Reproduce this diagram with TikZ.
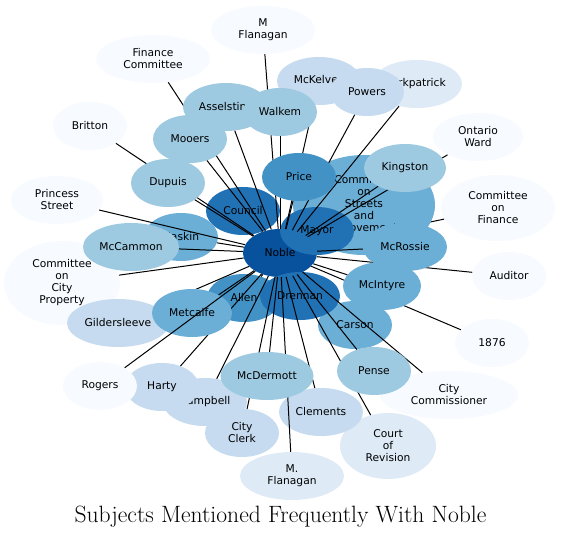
\documentclass[tikz,border=0pt]{standalone}
\usepackage{fontspec}
\usetikzlibrary{shapes.geometric}
\newfontfamily\labelfont{DejaVu Sans}
\definecolor{bA}{HTML}{F7FBFF}
\definecolor{bB}{HTML}{DEEBF7}
\definecolor{bC}{HTML}{C6DBEF}
\definecolor{bD}{HTML}{9ECAE1}
\definecolor{bE}{HTML}{6BAED6}
\definecolor{bF}{HTML}{4292C6}
\definecolor{bG}{HTML}{2171B5}
\definecolor{bH}{HTML}{08519C}
\tikzset{
  nd/.style={ellipse, inner sep=0pt, draw=none, align=center, text=black,
    font=\labelfont\fontsize{10.7}{12}\selectfont,
    minimum width=74pt, minimum height=48pt},
  ew/.style={minimum width=#1pt},
  eh/.style={minimum height=#1pt},
  lk/.style={draw=black, line width=1pt},
  ttl/.style={font=\fontsize{23.6}{26}\selectfont, anchor=base, inner sep=0pt}
}
\begin{document}
\begin{tikzpicture}[x=1pt,y=-1pt]
\useasboundingbox[fill=white] (0,0) rectangle (562,537);
\coordinate (pNoble) at (280,253);
\node[nd, fill=bG] (Council) at (243,211) {Council};
\draw[lk] (Council) -- (pNoble);
\node[nd, fill=bH] (Noble) at (pNoble) {Noble};
\node[nd, fill=bA, ew=114, eh=66] (CoF) at (498,208) {Committee\\on\\Finance};
\draw[lk] (Noble) -- (CoF);
\node[nd, fill=bE, ew=142, eh=100] (CoS) at (364,205) {Committee\\on\\Streets\\and\\Improvements};
\draw[lk] (Noble) -- (CoS);
\coordinate (pMayor) at (317,231);
\draw[lk] (Noble) -- (pMayor);
\node[nd, fill=bG] (Mayor) at (pMayor) {Mayor};
\node[nd, fill=bA, ew=90] (Ontario) at (478,137) {Ontario\\Ward};
\draw[lk] (Noble) -- (Ontario);
\node[nd, fill=bD, ew=82] (Kingston) at (405,168) {Kingston};
\draw[lk] (Noble) -- (Kingston);
\node[nd, fill=bA] (Auditor) at (509,276) {Auditor};
\draw[lk] (Noble) -- (Auditor);
\node[nd, fill=bE, ew=84] (McRossie) at (405,247) {McRossie};
\draw[lk] (Noble) -- (McRossie);
\node[nd, fill=bA] (n1876) at (492,343) {1876};
\draw[lk] (Noble) -- (n1876);
\node[nd, fill=bE] (Carson) at (355,325) {Carson};
\draw[lk] (Noble) -- (Carson);
\node[nd, fill=bE, ew=78] (McIntyre) at (382,286) {McIntyre};
\draw[lk] (Noble) -- (McIntyre);
\node[nd, fill=bF] (Allen) at (244,298) {Allen};
\draw[lk] (Noble) -- (Allen);
\coordinate (pDrennan) at (300,296);
\draw[lk] (Noble) -- (pDrennan);
\node[nd, fill=bG, ew=80] (Drennan) at (pDrennan) {Drennan};
\node[nd, fill=bA, ew=138] (CityComm) at (449,395) {City\\Commissioner};
\draw[lk] (Noble) -- (CityComm);
\node[nd, fill=bB, ew=96, eh=66] (CoR) at (388,446) {Court\\of\\Revision};
\draw[lk] (Noble) -- (CoR);
\node[nd, fill=bD] (Pense) at (374,371) {Pense};
\draw[lk] (Noble) -- (Pense);
\node[nd, fill=bC, ew=84] (Clements) at (321,412) {Clements};
\draw[lk] (Noble) -- (Clements);
\node[nd, fill=bB, ew=104] (MFlanB) at (292,476) {M.\\Flanagan};
\draw[lk] (Noble) -- (MFlanB);
\node[nd, fill=bC, ew=84] (Campbell) at (205,402) {Campbell};
\draw[lk] (Noble) -- (Campbell);
\node[nd, fill=bC] (CityClerk) at (242,433) {City\\Clerk};
\draw[lk] (Noble) -- (CityClerk);
\node[nd, fill=bD, ew=93] (McDermott) at (267,376) {McDermott};
\draw[lk] (Noble) -- (McDermott);
\node[nd, fill=bC] (Harty) at (162,387) {Harty};
\draw[lk] (Noble) -- (Harty);
\node[nd, fill=bA, ew=116, eh=84] (CoCP) at (62,283) {Committee\\on\\City\\Property};
\draw[lk] (Noble) -- (CoCP);
\node[nd, fill=bC, ew=102] (Gilder) at (118,323) {Gildersleeve};
\draw[lk] (Noble) -- (Gilder);
\node[nd, fill=bE, ew=80] (Metcalfe) at (192,313) {Metcalfe};
\draw[lk] (Noble) -- (Metcalfe);
\node[nd, fill=bA] (Rogers) at (100,386) {Rogers};
\draw[lk] (Noble) -- (Rogers);
\node[nd, fill=bE] (Haskin) at (181,237) {Haskin};
\draw[lk] (Noble) -- (Haskin);
\node[nd, fill=bD, ew=96] (McCammon) at (131,247) {McCammon};
\draw[lk] (Noble) -- (McCammon);
\node[nd, fill=bA, ew=92] (Princess) at (57,200) {Princess\\Street};
\draw[lk] (Noble) -- (Princess);
\node[nd, fill=bA] (Britton) at (90,126) {Britton};
\draw[lk] (Noble) -- (Britton);
\node[nd, fill=bA, ew=114] (FinCom) at (153,59) {Finance\\Committee};
\draw[lk] (Noble) -- (FinCom);
\node[nd, fill=bD, ew=86] (Asselstine) at (226,107) {Asselstine};
\draw[lk] (Noble) -- (Asselstine);
\node[nd, fill=bD] (Mooers) at (190,139) {Mooers};
\draw[lk] (Noble) -- (Mooers);
\node[nd, fill=bD] (Dupuis) at (168,183) {Dupuis};
\draw[lk] (Noble) -- (Dupuis);
\node[nd, fill=bA, ew=104] (MFlanA) at (263,30) {M\\Flanagan};
\draw[lk] (Noble) -- (MFlanA);
\node[nd, fill=bC, ew=84] (McKelvey) at (319,81) {McKelvey};
\draw[lk] (Noble) -- (McKelvey);
\node[nd, fill=bD] (Walkem) at (280,112) {Walkem};
\draw[lk] (Noble) -- (Walkem);
\node[nd, fill=bB, ew=90] (Kirk) at (417,84) {Kirkpatrick};
\draw[lk] (Noble) -- (Kirk);
\node[nd, fill=bC] (Powers) at (367,92) {Powers};
\draw[lk] (Noble) -- (Powers);
\node[nd, fill=bF] (Price) at (299,177) {Price};
\draw[lk] (Noble) -- (Price);
\node[ttl] (title) at (280.5,522) {Subjects Mentioned Frequently With Noble};
\end{tikzpicture}
\end{document}
